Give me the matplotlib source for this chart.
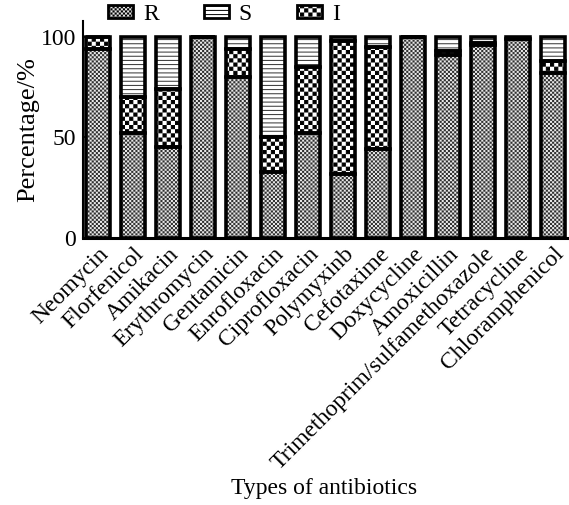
import matplotlib
matplotlib.use("Agg")
import matplotlib.pyplot as plt
import matplotlib.hatch as mhatch
from matplotlib.path import Path
from matplotlib.patches import Patch
import numpy as np

plt.rcParams['font.family'] = ['Liberation Serif', 'DejaVu Serif']
HATCH_LW = 0.7
plt.rcParams['hatch.linewidth'] = HATCH_LW


# ---- checkerboard hatch (replaces the circle hatches 'O' and 'o') ----
class _Checker(mhatch.HatchPatternBase):
    char = 'O'

    def __init__(self, hatch, density):
        cnt = hatch.count(self.char)
        n = cnt * density
        if n % 2:
            n += 1
        self.n = n
        self.num_vertices = (n * n // 2) * 5 if n else 0

    def set_vertices_and_codes(self, vertices, codes):
        n = self.n
        s = 1.0 / n
        inset = min(HATCH_LW / 2 / 72.0, s * 0.3)
        sq = np.array([[inset, inset], [s - inset, inset], [s - inset, s - inset],
                       [inset, s - inset], [inset, inset]], float)
        cd = [Path.MOVETO, Path.LINETO, Path.LINETO, Path.LINETO, Path.CLOSEPOLY]
        vs, cs = [], []
        for r in range(n):
            for c in range(n):
                if (r + c) % 2 == 0:
                    vs.append(sq + [c * s, r * s])
                    cs.append(cd)
        vertices[:] = np.concatenate(vs)
        codes[:] = np.concatenate(cs)


class _CheckerBig(_Checker):
    char = 'O'


class _CheckerSmall(_Checker):
    char = 'o'


mhatch._hatch_types = [t for t in mhatch._hatch_types
                       if t not in (mhatch.LargeCircles, mhatch.SmallCircles)]
mhatch._hatch_types += [_CheckerBig, _CheckerSmall]

# ---- data ----
categories = ["Neomycin", "Florfenicol", "Amikacin", "Erythromycin", "Gentamicin",
              "Enrofloxacin", "Ciprofloxacin", "Polymyxinb", "Cefotaxime", "Doxycycline",
              "Amoxicillin", "Trimethoprim/sulfamethoxazole", "Tetracycline", "Chloramphenicol"]
R = [94, 52, 45, 100, 80, 33, 52, 32, 44, 100, 91, 96, 99, 82]
I = [6, 18, 29, 0, 14, 17, 33, 66, 51, 0, 2, 1, 0, 6]
S = [0, 30, 26, 0, 6, 50, 15, 2, 5, 0, 7, 3, 1, 12]
yticks = [0, 50, 100]

fig = plt.figure(figsize=(5.69, 5.05), dpi=100)
ax = fig.add_axes([0.146, 0.529, 0.852, 0.43])

x = np.arange(len(categories))
w = 0.68
R = np.array(R); I = np.array(I); S = np.array(S)

R_style = dict(facecolor='#e8e8e8', edgecolor='#303030', hatch='oooooooo')
S_style = dict(facecolor='white', edgecolor='#303030', hatch='----')
I_style = dict(facecolor='white', edgecolor='black', hatch='OOOO')

for vals, bottom, st in [(R, np.zeros(len(R)), R_style), (I, R, I_style), (S, R + I, S_style)]:
    ax.bar(x, vals, w, bottom=bottom, color=st['facecolor'], edgecolor=st['edgecolor'],
           hatch=st['hatch'], linewidth=0, zorder=2)
    ax.bar(x, vals, w, bottom=bottom, fill=False, edgecolor='black', linewidth=2.6, zorder=3)

ax.set_xlim(-0.43, 13.42)
ax.set_ylim(0, 108)
ax.set_yticks(yticks)
ax.set_xticks(x)
ax.set_xticklabels(categories, rotation=45, ha='right', rotation_mode='anchor', fontsize=17)
ax.tick_params(axis='y', labelsize=17, length=3, width=1.2, direction='in', pad=5)
ax.tick_params(axis='x', length=0, pad=4)
for sp in ['top', 'right']:
    ax.spines[sp].set_visible(False)
ax.spines['left'].set_linewidth(1.5)
ax.spines['bottom'].set_linewidth(2.2)
ax.set_ylabel("Percentage/%", fontsize=19, labelpad=1)
fig.text(0.57, 0.033, "Types of antibiotics", fontsize=17, ha='center', va='center')

handles = [Patch(facecolor=R_style['facecolor'], edgecolor=R_style['edgecolor'], hatch=R_style['hatch'], linewidth=0),
           Patch(facecolor='white', edgecolor=S_style['edgecolor'], hatch=S_style['hatch'], linewidth=0),
           Patch(facecolor='white', edgecolor='black', hatch=I_style['hatch'], linewidth=0)]
leg = fig.legend(handles, ["R", "S", "I"], ncol=3, loc='center left', bbox_to_anchor=(0.19, 0.972),
                 frameon=False, fontsize=17, handlelength=1.06, handleheight=0.5,
                 columnspacing=1.9, handletextpad=0.42, borderpad=0, borderaxespad=0)
for p in leg.get_patches():
    p.set_edgecolor('black')
    p.set_linewidth(2)

fig.savefig("out.png", dpi=100)
